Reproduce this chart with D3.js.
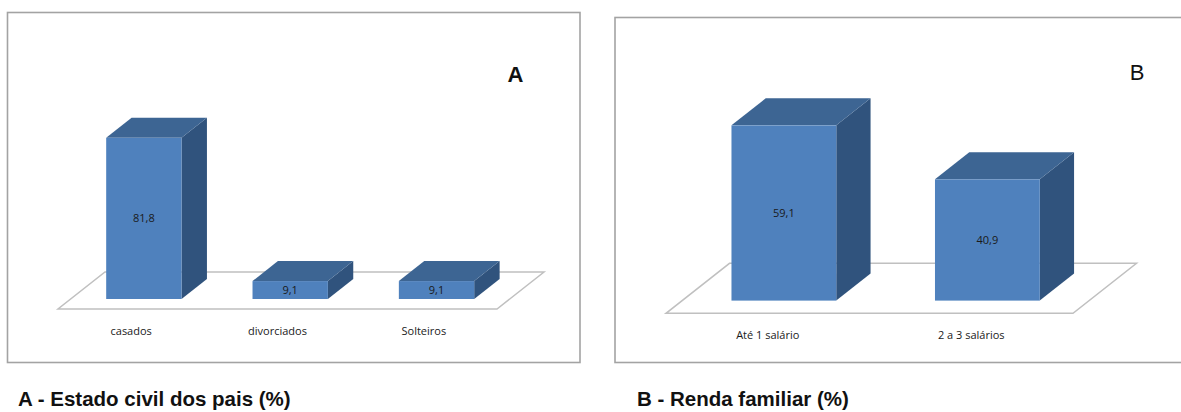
<!DOCTYPE html>
<html>
<head>
<meta charset="utf-8">
<script src="https://cdn.jsdelivr.net/npm/d3@7"></script>
<style>
    body { margin: 0; background: #ffffff; }
    svg { display: block; }
</style>
</head>
<body>
<div id="chart"></div>
<script>

// Data: A - Estado civil dos pais (%)
const civilCategories = ["casados", "divorciados", "Solteiros"]
const civilValues = [81.8, 9.1, 9.1]

// Data: B - Renda familiar (%)
const rendaCategories = ["Até 1 salário", "2 a 3 salários"]
const rendaValues = [59.1, 40.9]

// Captions
const panelLetters = ["A", "B"]
const panelTitles = ["A - Estado civil dos pais (%)", "B - Renda familiar (%)"]

// Canvas Size
const width = 1181, height = 412

const svg = d3.select("#chart")
    .append("svg")
    .attr("width", width)
    .attr("height", height)

// Colors of the 3D bar faces
const frontColor = "#4f81bd"
const topColor = "#3d6593"
const sideColor = "#30537d"
const slant = 1.27   // x shift per pixel of depth

// Layout of each panel (box, floor, depth, px per unit)
const panels = [
    {
        categories: civilCategories, values: civilValues, letter: panelLetters[0], title: panelTitles[0],
        box: { x: 7.5, y: 12.5, w: 572.5, h: 350 },
        floor: { x0: 58, x1: 497, y: 309, depth: 37 },
        barDepth: 20, frontOffset: 10, pxPerUnit: 1.97,
        letterPos: { x: 515.5, y: 81.5, weight: "bold" },
        titlePos: { x: 18, y: 406 }
    },
    {
        categories: rendaCategories, values: rendaValues, letter: panelLetters[1], title: panelTitles[1],
        box: { x: 615, y: 17.5, w: 585, h: 345 },
        floor: { x0: 666, x1: 1073, y: 313.3, depth: 50 },
        barDepth: 27, frontOffset: 12.7, pxPerUnit: 2.965,
        letterPos: { x: 1137, y: 80, weight: "normal" },
        titlePos: { x: 637, y: 406 }
    }
]

panels.forEach(drawPanel)

function drawPanel(p) {

    const g = svg.append("g")

    // Chart area border
    g.append("rect")
        .attr("x", p.box.x)
        .attr("y", p.box.y)
        .attr("width", p.box.w)
        .attr("height", p.box.h)
        .attr("fill", "#ffffff")
        .attr("stroke", "#a3a3a3")
        .attr("stroke-width", 1.6)

    // Scale for x-axis (categories on the front edge of the floor)
    const xScale = d3.scaleBand()
        .domain(p.categories)
        .range([p.floor.x0, p.floor.x1])
        .paddingInner(0.485)
        .paddingOuter(0.2425)

    // Scale for y-axis (bars stand a little behind the front edge)
    const base = p.floor.y - p.frontOffset
    const yScale = d3.scaleLinear()
        .domain([0, 100])
        .range([base, base - 100 * p.pxPerUnit])

    // Floor of the 3D plot
    const fd = p.floor.depth
    g.append("path")
        .attr("d", d3.line()([
            [p.floor.x0, p.floor.y],
            [p.floor.x1, p.floor.y],
            [p.floor.x1 + fd * slant, p.floor.y - fd],
            [p.floor.x0 + fd * slant, p.floor.y - fd]
        ]) + "Z")
        .attr("fill", "#ffffff")
        .attr("stroke", "#c0c0c0")
        .attr("stroke-width", 1.5)

    const dx = p.barDepth * slant, dy = p.barDepth
    const shift = p.frontOffset * slant
    const bw = xScale.bandwidth()

    const data = p.categories.map((c, i) => ({ category: c, value: p.values[i] }))

    const bars = g.selectAll(".bar")
        .data(data)
        .enter()
        .append("g")
        .attr("class", "bar")

    // Side face
    bars.append("path")
        .attr("d", d => {
            const x1 = xScale(d.category) + shift + bw, yt = yScale(d.value)
            return d3.line()([[x1, yt], [x1 + dx, yt - dy], [x1 + dx, base - dy], [x1, base]]) + "Z"
        })
        .attr("fill", sideColor)

    // Top face
    bars.append("path")
        .attr("d", d => {
            const x0 = xScale(d.category) + shift, yt = yScale(d.value)
            return d3.line()([[x0, yt], [x0 + bw, yt], [x0 + bw + dx, yt - dy], [x0 + dx, yt - dy]]) + "Z"
        })
        .attr("fill", topColor)

    // Front face
    bars.append("rect")
        .attr("x", d => xScale(d.category) + shift)
        .attr("y", d => yScale(d.value))
        .attr("width", bw)
        .attr("height", d => base - yScale(d.value))
        .attr("fill", frontColor)

    // Value labels
    bars.append("text")
        .attr("x", d => xScale(d.category) + shift + bw / 2)
        .attr("y", d => (yScale(d.value) + base) / 2)
        .attr("dy", "0.35em")
        .attr("text-anchor", "middle")
        .attr("font-family", "'Open Sans', sans-serif")
        .attr("font-size", 11)
        .style("fill", "#1a1a1a")
        .text(d => d3.format(".1f")(d.value).replace(".", ","))

    // Category labels
    g.selectAll(".cat")
        .data(p.categories)
        .enter()
        .append("text")
        .attr("class", "cat")
        .attr("x", d => xScale(d) + bw / 2)
        .attr("y", p.floor.y + 26)
        .attr("text-anchor", "middle")
        .attr("font-family", "'Open Sans', sans-serif")
        .attr("font-size", 11)
        .style("fill", "#1a1a1a")
        .text(d => d)

    // Panel letter
    g.append("text")
        .attr("x", p.letterPos.x)
        .attr("y", p.letterPos.y)
        .attr("text-anchor", "middle")
        .attr("font-family", "'Liberation Sans', Arial, sans-serif")
        .attr("font-size", 22)
        .attr("font-weight", p.letterPos.weight)
        .style("fill", "#111111")
        .text(p.letter)

    // Caption under the box
    g.append("text")
        .attr("x", p.titlePos.x)
        .attr("y", p.titlePos.y)
        .attr("font-family", "'Liberation Sans', Arial, sans-serif")
        .attr("font-size", 20.5)
        .attr("font-weight", "bold")
        .style("fill", "#111111")
        .text(p.title)
}

</script>
</body>
</html>
